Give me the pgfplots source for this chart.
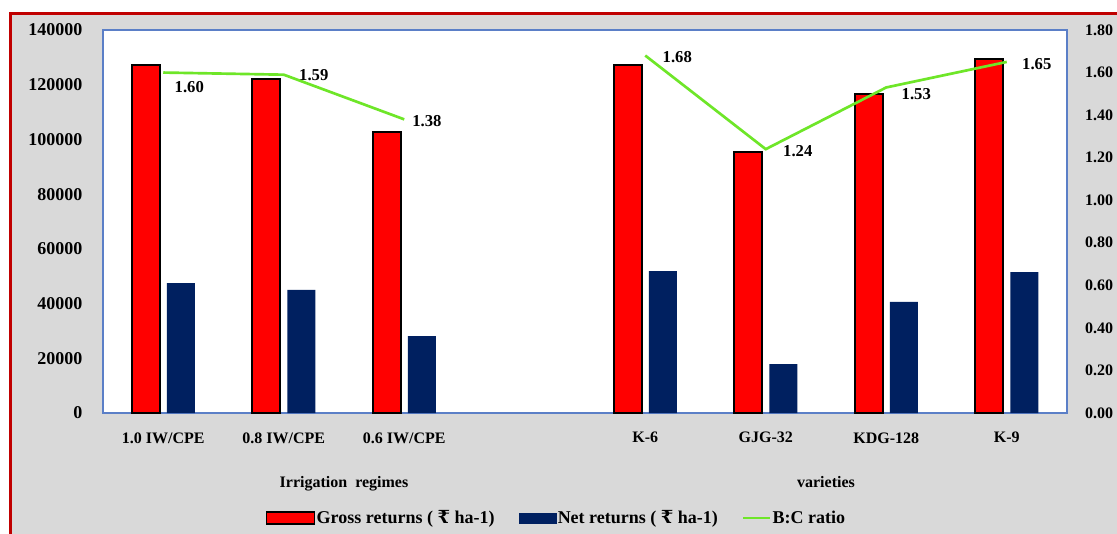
\documentclass[border=0pt]{standalone}
\usepackage{pgfplots}
\pgfplotsset{compat=1.18}
\usepackage{pgfplotstable}
\usepackage{fontspec}
\setmainfont{Liberation Serif}
\newfontfamily\rupeefont{DejaVu Serif}
\newcommand\Rs{{\rupeefont ₹}}
\definecolor{netblue}{RGB}{0,32,96}
\definecolor{bcgreen}{RGB}{110,230,40}
\definecolor{framered}{RGB}{192,0,0}
\definecolor{plotblue}{RGB}{91,127,199}
\definecolor{bggray}{RGB}{217,217,217}

% gross and net returns per treatment (slot 3 left empty as a gap)
\pgfplotstableread{
x gross net
0 127200 47500
1 122000 45000
2 102700 28100
4 127200 51900
5 95400 17900
6 116600 40600
7 129400 51500
}\returns

% B:C ratio, with label offsets in pt
\pgfplotstableread{
x bc dx dy
0 1.60 19.5 -11
1 1.59 22.5 0
2 1.38 17 -1.5
3 nan 0 0
4 1.68 24 -1.5
5 1.24 24 -1.5
6 1.53 22.5 -5
7 1.65 22.5 -1.5
}\bcratio

\begin{document}
\begin{tikzpicture}[font=\fontsize{12}{14}\selectfont\bfseries]
\clip (0,0) rectangle (837.75pt,399.75pt);
\fill[white] (0,0) rectangle (837.75pt,399.75pt);
\fill[bggray] (7.5pt,-10pt) rectangle (850pt,389.25pt);
\draw[framered,line width=2.25pt] (7.5pt,-10pt) -- (7.5pt,389.25pt) -- (850pt,389.25pt);

\begin{axis}[
  at={(77.25pt,90pt)}, anchor=south west,
  scale only axis, width=723pt, height=287.25pt,
  xmin=-0.5, xmax=7.5, ymin=0, ymax=140000,
  axis background/.style={fill=white},
  axis line style={plotblue, line width=1.5pt},
  xtick={0,1,2,4,5,6,7},
  xticklabels={1.0 IW/CPE,0.8 IW/CPE,0.6 IW/CPE,K-6,GJG-32,KDG-128,K-9},
  ytick={0,20000,40000,60000,80000,100000,120000,140000},
  xtick pos=bottom, ytick pos=left,
  major tick length=0pt,
  scaled y ticks=false,
  /pgf/number format/assume math mode=true,
  yticklabel style={/pgf/number format/fixed, /pgf/number format/1000 sep={}, xshift=-12pt,
    font=\fontsize{13.5}{15}\selectfont\bfseries},
  xticklabel style={yshift=-11pt, font=\fontsize{12}{14}\selectfont\bfseries},
  ybar=5.4pt, bar width=21pt,
]
\addplot[fill=red, draw=black, line width=1.5pt] table[x=x, y=gross] {\returns};
\addplot[fill=netblue, draw=none] table[x=x, y=net] {\returns};
\end{axis}

\begin{axis}[
  at={(77.25pt,90pt)}, anchor=south west,
  scale only axis, width=723pt, height=287.25pt,
  xmin=-0.5, xmax=7.5, ymin=0, ymax=1.8,
  hide x axis,
  axis y line*=right,
  y axis line style={draw=none},
  major tick length=0pt,
  ytick={0,0.2,0.4,0.6,0.8,1.0,1.2,1.4,1.6,1.8},
  /pgf/number format/assume math mode=true,
  yticklabel style={/pgf/number format/.cd, fixed, fixed zerofill, precision=2, /tikz/.cd, xshift=10pt},
  tick label style={font=\fontsize{12}{14}\selectfont\bfseries},
  unbounded coords=jump,
  legend style={at={(0.47,-0.274)}, anchor=center, draw=none, fill=none,
    legend columns=3, font=\fontsize{13.5}{15}\selectfont\bfseries,
    /tikz/every even column/.append style={column sep=17pt},
    nodes={inner sep=1pt}},
]
\addlegendimage{legend image code/.code={\draw[fill=red,draw=black,line width=1.2pt] (0pt,-4.5pt) rectangle (36pt,4.5pt);}}
\addlegendentry{Gross returns ( \Rs\ ha-1)}
\addlegendimage{legend image code/.code={\fill[netblue] (0pt,-3.75pt) rectangle (28pt,3.75pt);}}
\addlegendentry{Net returns ( \Rs\ ha-1)}
\addplot[bcgreen, line width=2pt, no marks, sharp plot,
  legend image code/.code={\draw[bcgreen,line width=2pt] (0pt,0pt) -- (20pt,0pt);},
  visualization depends on={\thisrow{dx} \as \dx},
  visualization depends on={\thisrow{dy} \as \dy},
  point meta=y,
  nodes near coords={\pgfmathprintnumber[fixed,fixed zerofill,precision=2]{\pgfplotspointmeta}},
  nodes near coords style={anchor=center, xshift=\dx pt, yshift=\dy pt, text=black,
    font=\fontsize{12.5}{14}\selectfont\bfseries},
] table[x=x, y=bc] {\bcratio};
\addlegendentry{B:C ratio}
\end{axis}

\node[anchor=base] at (258pt,34.5pt) {Irrigation\ \ regimes};
\node[anchor=base] at (619.5pt,34.5pt) {varieties};
\end{tikzpicture}
\end{document}
